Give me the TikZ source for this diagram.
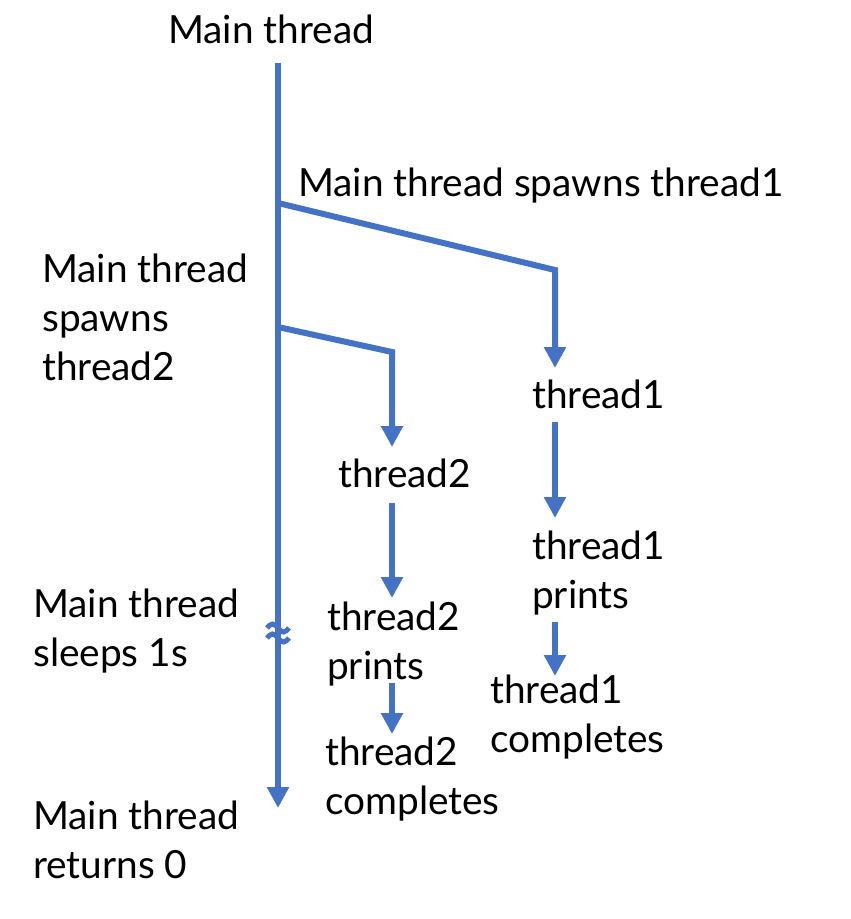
\documentclass[tikz,border=0pt]{standalone}
\usepackage{fontspec}
\setmainfont{Lato}
\usetikzlibrary{arrows.meta}
\definecolor{tblue}{RGB}{68,114,196}
\begin{document}
\begin{tikzpicture}[x=1pt,y=-1pt,
  lbl/.style={inner sep=0pt, anchor=base west, align=left, font=\fontsize{38.8}{49}\selectfont},
  tline/.style={draw=tblue, line width=6pt},
  arr/.style={tline, -{Triangle[width=21pt,length=21pt]}},
  wave/.style={draw=tblue, line width=5pt}]
\useasboundingbox (0,0) rectangle (851,919);
% texts (base anchor = baseline of the last line)
\node[lbl] (mt) at (168,43) {Main thread};
\node[lbl] (sp1) at (298,196) {Main thread spawns thread1};
\node[lbl] (sp2) at (42,380) {Main thread\\spawns\\thread2};
\node[lbl] (t1) at (532,408) {thread1};
\node[lbl] (t2) at (338,487) {thread2};
\node[lbl] (t1p) at (532,608) {thread1\\prints};
\node[lbl] (sl) at (33,666) {Main thread\\sleeps 1s};
\node[lbl] (t2p) at (327,679) {thread2\\prints};
\node[lbl] (t1c) at (490,752) {thread1\\completes};
\node[lbl] (t2c) at (325,814) {thread2\\completes};
\node[lbl] (ret) at (33,878) {Main thread\\returns 0};
% coordinates
\coordinate (m0) at (278,63);
\coordinate (mE) at (278,808);
\coordinate (b1) at (278,203);
\coordinate (c1) at (555,270);
\coordinate (e1) at (555,368);
\coordinate (b2) at (278,327);
\coordinate (c2) at (392,352);
\coordinate (e2) at (392,447);
\coordinate (a1s) at (555,422);
\coordinate (a1e) at (555,518);
\coordinate (a2s) at (555,622);
\coordinate (a2e) at (555,676);
\coordinate (a3s) at (392,503);
\coordinate (a3e) at (392,598);
\coordinate (a4s) at (392,683);
\coordinate (a4e) at (392,734);
% connectors
\draw[arr] (m0) -- (mE);
\draw[arr] (b1) -- (c1) -- (e1);
\draw[arr] (b2) -- (c2) -- (e2);
\draw[arr] (a1s) -- (a1e);
\draw[arr] (a2s) -- (a2e);
\draw[arr] (a3s) -- (a3e);
\draw[arr] (a4s) -- (a4e);
% break mark
\draw[wave] (267,628) sin (272.5,624) cos (278,628) sin (283.5,632) cos (289,628);
\draw[wave] (267,638) sin (272.5,634) cos (278,638) sin (283.5,642) cos (289,638);
\end{tikzpicture}
\end{document}
